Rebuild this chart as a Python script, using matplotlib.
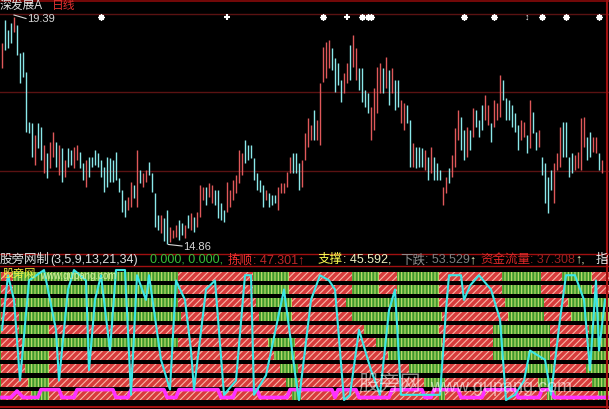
import matplotlib
matplotlib.use('Agg')
import matplotlib.pyplot as plt
import numpy as np

plt.rcParams['font.family'] = ['Liberation Sans', 'Noto Sans CJK SC', 'DejaVu Sans']
plt.rcParams['hatch.linewidth'] = 0.8

W, H = 609, 409

# ---- dados do painel de preço (uma barra por dia) ----
highs = [18.87, 19.33, 19.13, 19.27, 19.39, 19.23, 18.67, 18.69, 18.29, 17.29,
         17.27, 17.03, 17.27, 17.19, 16.83, 16.67, 16.89, 17.09, 16.89, 16.83,
         16.77, 16.53, 16.77, 16.73, 16.79, 16.83, 16.69, 16.47, 16.53, 16.59,
         16.59, 16.73, 16.67, 16.53, 16.39, 16.59, 16.57, 16.53, 16.69, 16.17,
         15.93, 15.73, 15.79, 16.09, 16.03, 16.73, 16.33, 16.27, 16.33, 16.49,
         16.27, 15.87, 15.43, 15.43, 15.37, 15.53, 15.19, 15.13, 15.23, 15.33,
         15.27, 15.23, 15.43, 15.47, 15.39, 15.49, 16.03, 15.99, 15.99, 16.07,
         16.03, 15.93, 15.93, 15.67, 15.53, 16.09, 15.93, 16.13, 16.23, 16.73,
         16.67, 16.93, 16.83, 16.83, 16.57, 16.27, 16.13, 16.03, 15.93, 15.87,
         15.83, 15.83, 15.99, 16.07, 16.07, 16.29, 16.59, 16.67, 16.67, 16.47,
         16.53, 17.07, 17.37, 17.23, 17.53, 17.33, 18.07, 18.79, 18.89, 18.93,
         18.77, 18.57, 18.47, 18.13, 18.27, 18.47, 18.83, 19.03, 18.77, 18.37,
         18.37, 17.93, 17.87, 17.59, 17.97, 18.39, 18.47, 18.37, 18.59, 18.33,
         18.37, 18.13, 18.13, 17.73, 17.67, 17.63, 17.33, 16.87, 16.79, 16.79,
         16.77, 16.73, 16.59, 16.79, 16.59, 16.47, 16.33, 15.99, 16.19, 16.37,
         16.63, 17.17, 17.53, 17.39, 17.13, 17.19, 17.13, 17.57, 17.53, 17.33,
         17.63, 17.83, 17.63, 17.27, 17.73, 17.67, 18.23, 18.13, 17.77, 17.73,
         17.63, 17.47, 17.23, 17.33, 17.29, 17.03, 17.73, 17.49, 17.09, 17.13,
         16.59, 16.47, 16.19, 16.33, 16.47, 16.67, 17.19, 17.29, 17.29, 16.59,
         16.67, 16.63, 16.69, 17.37, 17.39, 16.99, 17.09, 16.99, 16.99, 16.67,
         16.53]
lows = [18.37, 18.73, 18.77, 18.87, 19.09, 18.63, 18.07, 18.19, 17.09, 17.07,
        16.59, 16.43, 16.77, 16.53, 16.27, 16.17, 16.37, 16.59, 16.39, 16.23,
        16.09, 16.19, 16.39, 16.43, 16.37, 16.53, 16.37, 16.13, 15.99, 16.19,
        16.39, 16.43, 16.39, 16.19, 15.89, 15.99, 16.09, 16.09, 16.13, 15.89,
        15.49, 15.39, 15.53, 15.59, 15.77, 15.59, 16.07, 15.99, 16.09, 16.23,
        15.89, 15.19, 15.13, 15.07, 14.91, 14.86, 14.89, 14.97, 14.99, 14.93,
        15.03, 14.97, 15.17, 15.13, 15.09, 15.19, 15.39, 15.73, 15.63, 15.79,
        15.67, 15.63, 15.37, 15.33, 15.29, 15.49, 15.59, 15.73, 15.87, 16.07,
        16.23, 16.47, 16.53, 16.57, 16.13, 15.93, 15.89, 15.59, 15.73, 15.59,
        15.63, 15.67, 15.53, 15.87, 15.87, 15.99, 16.27, 16.27, 16.27, 15.93,
        15.99, 16.53, 16.79, 16.93, 16.93, 16.93, 16.83, 18.09, 18.17, 18.37,
        18.33, 17.89, 18.03, 17.69, 17.87, 18.07, 18.13, 18.39, 18.13, 17.93,
        17.69, 17.59, 17.47, 16.93, 17.13, 17.47, 17.87, 17.87, 17.97, 17.63,
        17.87, 17.53, 17.59, 17.27, 17.13, 17.27, 16.39, 16.39, 16.37, 16.39,
        16.39, 16.33, 16.13, 16.27, 16.13, 16.13, 16.13, 15.63, 15.87, 16.07,
        16.19, 16.39, 16.93, 16.73, 16.53, 16.59, 16.73, 16.99, 17.19, 16.99,
        17.13, 17.33, 17.23, 16.89, 17.19, 17.33, 17.39, 17.73, 17.33, 17.33,
        17.19, 17.09, 16.73, 16.93, 16.99, 16.67, 16.77, 17.07, 16.73, 16.79,
        16.23, 15.67, 15.47, 15.93, 15.67, 16.33, 16.39, 16.59, 16.59, 16.19,
        16.27, 16.33, 16.37, 16.33, 16.79, 16.53, 16.59, 16.69, 16.67, 16.33,
        16.27]
# r = alta (vermelho), c = baixa (ciano)
up_down = ("rcccrccccc" "crccrcrrcr" "crccrrccrc" "cccccccccc" "ccrrcrcrrc"
           "cccrccrrrc" "crcrcrrrcr" "rccccrrrrr" "rcccccccrc" "ccrrrrrccc"
           "rrrrcrrrrr" "ccccrrcrrc" "cccrrrrcrc" "rccrrccrcc" "crcrcccrrc"
           "rrrccrcrcc" "crrcrrrccc" "cccrrcrccr" "ccccrrrccc" "crrrrccrrc" "r")

grid_levels = [19.45, 17.89, 16.31]
star_idx = [33, 107, 120, 122, 123, 154, 164, 180, 188, 199]
plus_idx = [75, 115]
arrow_idx = [175]
hi_idx, hi_val = 4, 19.39
lo_idx, lo_val = 55, 14.86

# ---- painel do indicador ----
# trechos vermelhos de cada faixa (índice de barra inicial, final), de cima para baixo
red_spans = [
    [(0, 3), (59, 83), (96, 116), (126, 131), (146, 166), (180, 186), (197, 202)],
    [(0, 3), (59, 83), (96, 116), (126, 131), (146, 166), (180, 187), (197, 202)],
    [(0, 4), (59, 84), (97, 114), (146, 167), (181, 188)],
    [(0, 5), (60, 85), (97, 116), (147, 168), (181, 189)],
    [(0, 5), (16, 96), (97, 120), (146, 163), (183, 195)],
    [(0, 6), (59, 88), (98, 124), (147, 163), (183, 195)],
    [(0, 6), (16, 90), (98, 128), (147, 163), (183, 195)],
    [(0, 7), (16, 92), (99, 135), (147, 174), (184, 194)],
    [(0, 8), (16, 94), (99, 140), (148, 178), (184, 196)],
    [(0, 9), (16, 96), (100, 145), (148, 181), (185, 198)],
]
cyan_x = [0, 2, 4, 6, 9, 14, 18, 19, 22, 24, 28, 29, 31, 33, 36, 38, 41, 43, 45, 48,
          49, 53, 56, 58, 61, 63, 64, 68, 71, 74, 78, 81, 83, 84, 88, 94, 98, 99, 103,
          106, 109, 111, 114, 116, 119, 123, 126, 129, 131, 133, 138, 146, 148, 149,
          153, 154, 156, 159, 163, 166, 168, 171, 174, 176, 181, 183, 186, 188, 191,
          194, 196, 198, 199, 201]
cyan_v = [54, 96, 77, 15, 92, 100, 54, 15, 85, 100, 92, 23, 77, 96, 38, 100, 100, 4, 96,
          77, 96, 31, 8, 92, 77, 38, 8, 85, 92, 4, 15, 96, 96, 4, 19, 85, 15, 0, 77, 96,
          92, 85, 0, 4, 54, 23, 4, 69, 85, 4, 4, 4, 69, 96, 96, 77, 88, 96, 85, 62, 0,
          4, 15, 38, 31, 4, 62, 96, 96, 77, 23, 92, 38, 77]
mag_x = [0, 3, 5, 7, 12, 13, 19, 20, 24, 25, 37, 38, 42, 43, 54, 55, 58, 59, 72, 73,
         77, 78, 85, 86, 95, 96, 110, 111, 112, 118, 119, 129, 130, 140, 141, 143,
         144, 152, 153, 160, 161, 171, 172, 179, 180, 183, 184, 202]
mag_v = [2, 2, 7, 2, 2, 8, 8, 2, 2, 8, 8, 2, 2, 8, 8, 2, 2, 8, 8, 2,
         2, 8, 8, 2, 2, 8, 8, 2, 8, 8, 2, 2, 8, 8, 2, 2,
         8, 8, 2, 2, 8, 8, 2, 2, 8, 8, 2, 2]

RED_UP = '#e0585a'
CYAN_DN = '#8ae8ea'
GRID_RED = '#5a1212'
BORDER = '#a01010'

fig = plt.figure(figsize=(W / 100, H / 100), dpi=100, facecolor='black')


def px_axes(top, bottom):
    return fig.add_axes([0, 1 - bottom / H, 1, (bottom - top) / H])


xlim = (-2 / 3, (W - 2) / 3)
n = len(highs)
idx = np.arange(n)

# painel superior
ax1 = px_axes(0, 252)
ax1.set_facecolor('black')
ax1.set_xlim(*xlim)
ax1.set_ylim(14.69, 19.73)
ax1.axis('off')
for lv in grid_levels:
    ax1.axhline(lv, color=GRID_RED, lw=1.0, zorder=1)
cores = [RED_UP if c == 'r' else CYAN_DN for c in up_down]
ax1.vlines(idx, lows, highs, colors=cores, lw=1.0, zorder=3)
ax1.scatter(star_idx, [19.39] * len(star_idx), marker=(8, 2, 0), s=13, color='white',
            lw=1.2, zorder=4)
ax1.scatter(plus_idx, [19.39] * len(plus_idx), marker='+', s=22, color='white', lw=1.5,
            zorder=4)
for a in arrow_idx:
    ax1.text(a, 19.39, '↕', color='white', fontsize=6.5, ha='center', va='center', zorder=4)

# anotações de máxima e mínima
ax1.plot([hi_idx, hi_idx + 4], [hi_val + 0.04, hi_val - 0.03], color='#d8d8d8', lw=0.8,
         zorder=5)
ax1.text(hi_idx + 4.5, hi_val - 0.05, str(hi_val), color='#d8d8d8', fontsize=8,
         va='center')
ax1.plot([lo_idx + 0.5, lo_idx + 5], [lo_val - 0.02, lo_val - 0.05], color='#d8d8d8',
         lw=0.8, zorder=5)
ax1.text(lo_idx + 5.3, lo_val - 0.06, str(lo_val), color='#d8d8d8', fontsize=8,
         va='center')

# painel inferior
ax2 = px_axes(266, 406)
ax2.set_facecolor('black')
ax2.set_xlim(*xlim)
ax2.set_ylim(-4.6, 103.1)
ax2.axis('off')

row_h = 7.0
for k, spans in enumerate(red_spans):
    y0 = 98.5 - k * 10.15 - row_h
    ax2.bar(-1, row_h, width=204, bottom=y0, align='edge', color='#3f9a2e',
            edgecolor='#c8e070', lw=0, hatch='|||||', zorder=1)
    for s, e in spans:
        ax2.bar(s - 0.5, row_h, width=e - s + 1, bottom=y0, align='edge', color='#d83c3c',
                edgecolor='#f8b8a8', lw=0, hatch='/////', zorder=2)

ax2.plot(mag_x, mag_v, color='#ff30ff', lw=2.6, zorder=5)
ax2.plot(cyan_x, cyan_v, color='#3ce6e6', lw=1.5, zorder=6)

# sobreposição em pixels para textos e bordas
ov = fig.add_axes([0, 0, 1, 1])
ov.set_xlim(0, W)
ov.set_ylim(H, 0)
ov.axis('off')
ov.patch.set_alpha(0)

ov.axhline(1, color='#8a0a0a', lw=1.2)
ov.axhline(253.5, color=BORDER, lw=1.0)
ov.axhline(265.5, color=BORDER, lw=1.0)
ov.axhline(406.5, color=BORDER, lw=1.5)
ov.axvline(606.5, color=BORDER, lw=1.5)

fs = 9
ov.text(0, 6, '深发展A', color='#e0e0e0', fontsize=8.5, va='center')
ov.text(52, 6, '日线', color='#e03030', fontsize=8.5, va='center')

header = [
    (0, '股旁网制', '#e0e0e0'),
    (50, '(3,5,9,13,21,34)', '#e0e0e0'),
    (150, '0.000, 0.000,', '#38c038'),
    (228, '拣顺', '#f03030'),
    (253, ': 47.301↑', '#c02828'),
    (318, '支撑', '#ffff50'),
    (343, ': 45.592,', '#f0f0c0'),
    (400, '下跌', '#909090'),
    (425, ': 53.529', '#808080'),
    (469, '↑', '#f0f0c0'),
    (480, '资金流量', '#e02828'),
    (530, ': 37.308', '#a02020'),
    (575, '↑,', '#f0f0c0'),
    (596, '指', '#f0f0f0'),
]
for x, t, c in header:
    ov.text(x, 260, t, color=c, fontsize=fs, va='center')

ov.text(3, 274, '股旁网', color='#f0f040', fontsize=8, va='center', zorder=10)
ov.text(40, 276, 'www.gupang.com', color='#d0f0a0', fontsize=7, va='center', zorder=10)
ov.text(358, 384, '股旁网', color='white', alpha=0.55, fontsize=15, va='center', zorder=10)
ov.text(430, 387, 'www.gupang.com', color='white', alpha=0.55, fontsize=13, va='center',
        zorder=10)

fig.savefig('out.png', dpi=100, facecolor='black')
